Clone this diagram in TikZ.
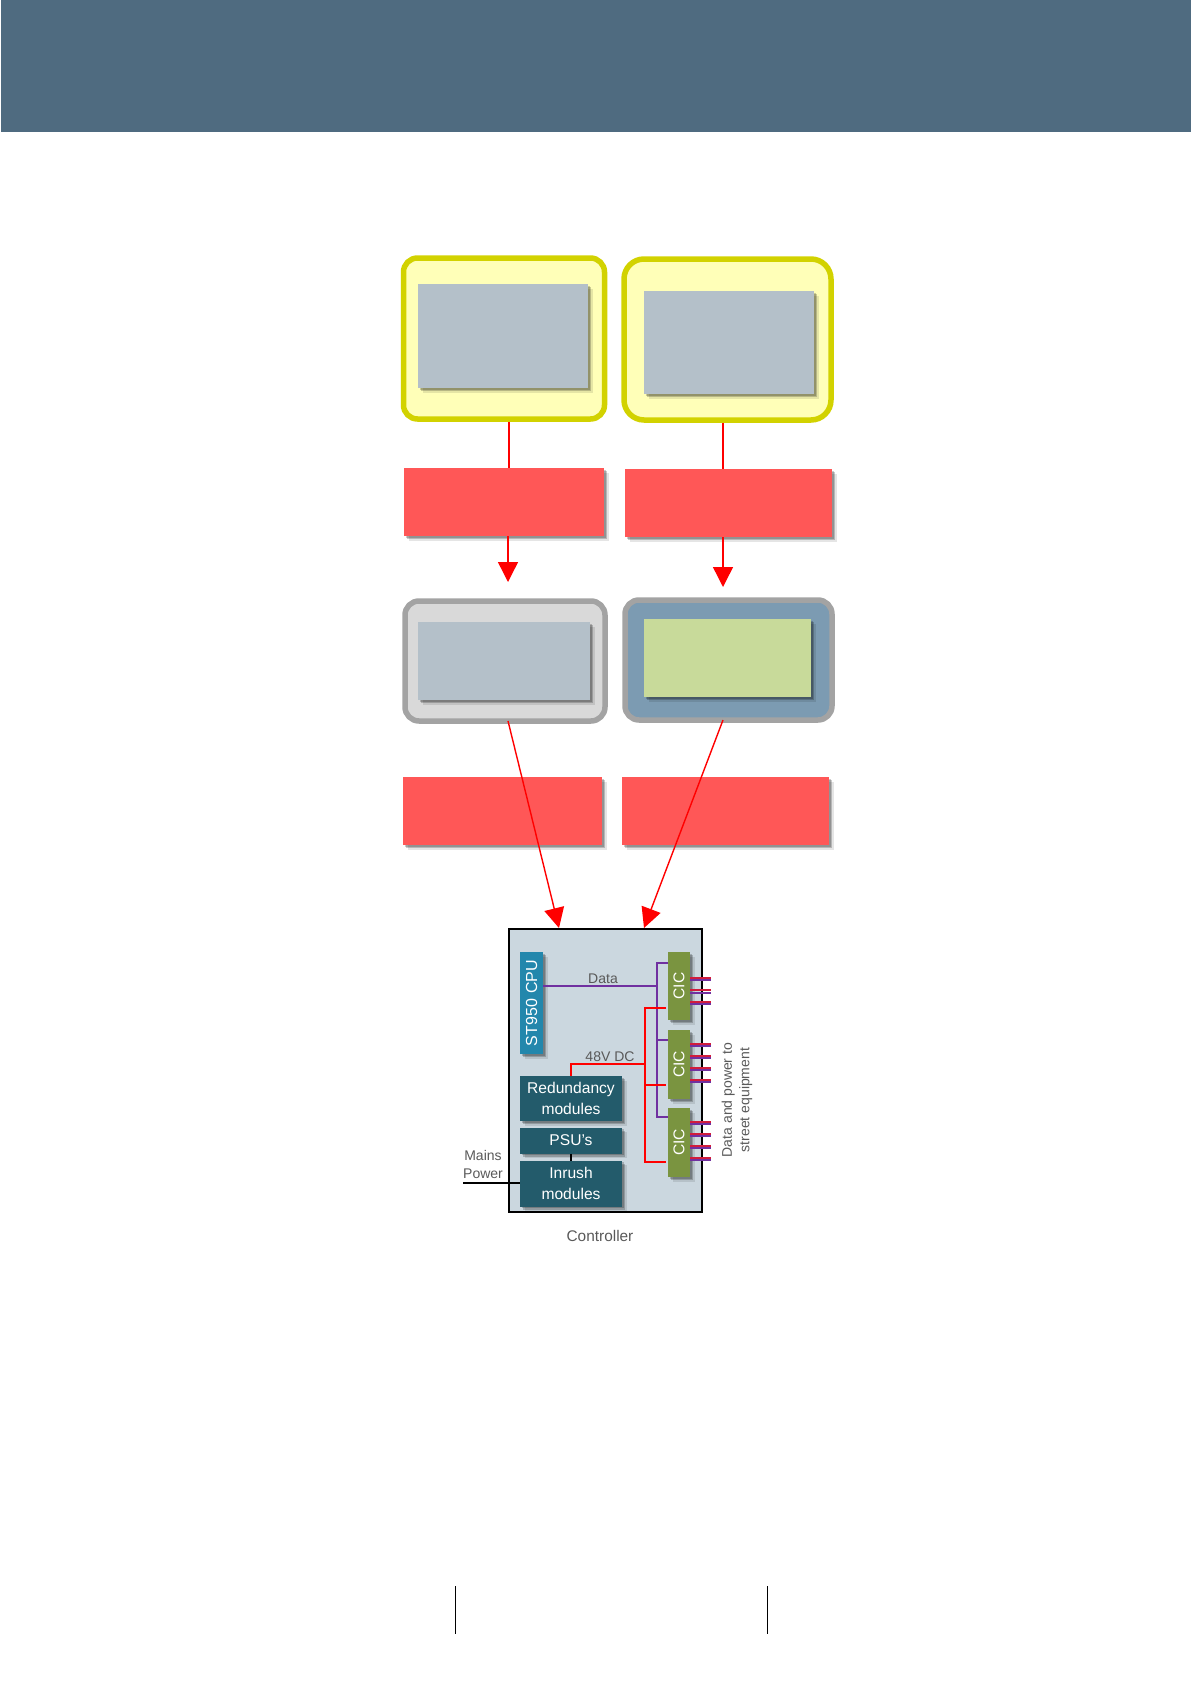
\documentclass[tikz,border=0pt]{standalone}
\usepackage{fontspec}
\setmainfont{Liberation Sans}
\usetikzlibrary{shadows,arrows.meta}
\definecolor{bandblue}{HTML}{4F6B80}
\definecolor{paleyellow}{HTML}{FFFFB8}
\definecolor{darkyellow}{HTML}{D2D200}
\definecolor{slategrey}{HTML}{B4C0C9}
\definecolor{softred}{HTML}{FF5757}
\definecolor{framegrey}{HTML}{A3A3A3}
\definecolor{palegrey}{HTML}{D9D9D9}
\definecolor{steelblue}{HTML}{7C9BB2}
\definecolor{palegreen}{HTML}{C8DA9A}
\definecolor{panelblue}{HTML}{CBD7DF}
\definecolor{cputeal}{HTML}{2387AC}
\definecolor{modteal}{HTML}{235B6B}
\definecolor{cicgreen}{HTML}{7A9440}
\definecolor{datapurple}{HTML}{7030A0}
\definecolor{stubred}{HTML}{D01C3C}
\definecolor{labelgrey}{HTML}{595959}
\tikzset{
	softshadow/.style={
		drop shadow={shadow xshift=1.5pt,shadow yshift=-1.5pt,opacity=0.2,fill=black},
		drop shadow={shadow xshift=3pt,shadow yshift=-3pt,opacity=0.2,fill=black},
		drop shadow={shadow xshift=4.5pt,shadow yshift=-4.5pt,opacity=0.1,fill=black}},
	flat/.style={inner sep=0pt,outer sep=0pt,text=white,align=center,font=\fontsize{15.6}{21}\selectfont},
	greybox/.style={flat,fill=slategrey,softshadow},
	redbox/.style={flat,fill=softred,softshadow},
	yellowframe/.style={flat,outer sep=2.75pt,rounded corners=14pt,draw=darkyellow,line width=5.5pt,fill=paleyellow},
	greyframe/.style={flat,rounded corners=14pt,draw=framegrey,line width=5.5pt},
	modbox/.style={flat,fill=modteal,softshadow},
	cicbox/.style={flat,fill=cicgreen,softshadow,rotate=90,minimum width=68pt,minimum height=22pt},
	label/.style={inner sep=0pt,text=labelgrey,align=center,font=\fontsize{14}{17.5}\selectfont},
	flow/.style={red,line width=1.4pt,-{Triangle[length=20pt,width=20pt]}},
	flowline/.style={red,line width=1.4pt},
	dataline/.style={datapurple,line width=1.5pt},
	powerline/.style={red,line width=1.5pt},
	mainsline/.style={black,line width=1.5pt},
	stubupper/.style={stubred,line width=1.6pt},
	stublower/.style={datapurple,line width=1.6pt}
}
\begin{document}
\begin{tikzpicture}[x=1pt,y=-1pt]
	\useasboundingbox (0,0) rectangle (1191,1684);
	% header band and footer rules
	\fill[bandblue] (1,0) rectangle (1191,132);
	\draw[black,line width=0.8pt] (455.5,1586) -- (455.5,1634);
	\draw[black,line width=0.8pt] (767.5,1586) -- (767.5,1634);

	% top row
	\node[yellowframe,minimum width=201pt,minimum height=161pt] (sourceL) at (504,338.5) {};
	\node[yellowframe,minimum width=207pt,minimum height=161pt,rounded corners=20pt] (sourceR) at (727.5,339.5) {};
	\node[greybox,minimum width=170pt,minimum height=104pt] (innerA) at (503,336) {};
	\node[greybox,minimum width=170pt,minimum height=103pt] (innerB) at (729,342.5) {};

	% second row
	\node[greyframe,fill=palegrey,minimum width=200pt,minimum height=120pt] (frameL) at (505,661) {};
	\node[greyframe,fill=steelblue,minimum width=207pt,minimum height=120pt] (frameR) at (728.5,660) {};
	\node[greybox,minimum width=172pt,minimum height=78pt] (innerC) at (504,661) {};
	\node[greybox,fill=palegreen,minimum width=167pt,minimum height=78pt] (innerD) at (727.5,658) {};

	% red bars
	\node[redbox,minimum width=200pt,minimum height=68pt] (barA) at (504,502) {};
	\node[redbox,minimum width=207pt,minimum height=68pt] (barB) at (728.5,503) {};
	\node[redbox,minimum width=199pt,minimum height=68pt] (barC) at (502.5,811) {};
	\node[redbox,minimum width=207pt,minimum height=68pt] (barD) at (725.5,811) {};

	% controller
	\node[flat,outer sep=1pt,draw=black,line width=2pt,fill=panelblue,minimum width=193pt,minimum height=283pt] (ctrl) at (605.2,1070.5) {};
	\node[label,font=\fontsize{15.4}{18}\selectfont] (ctrlname) at (600,1235.5) {Controller};
	\node[flat,fill=cputeal,softshadow,rotate=90,minimum width=102pt,minimum height=23pt,font=\fontsize{16}{20}\selectfont] (cpu) at (531.5,1003) {ST950\,\,CPU};
	\node[cicbox] (cicA) at (679,986) {CIC};
	\node[cicbox,minimum width=69pt] (cicB) at (679,1064.5) {CIC};
	\node[cicbox,minimum width=69pt] (cicC) at (679,1142.5) {CIC};
	\node[modbox,minimum width=102pt,minimum height=45pt] (redund) at (571,1098.5) {Redundancy\\modules};
	\node[modbox,minimum width=102pt,minimum height=26pt] (psu) at (571,1140.5) {PSU’s};
	\node[modbox,minimum width=102pt,minimum height=46pt] (inrush) at (571,1183.5) {Inrush\\modules};

	% points where the bus lines branch and end
	\coordinate (dataT) at (657,963);
	\coordinate (dataJ) at (657,986);
	\coordinate (dataM) at (657,1040);
	\coordinate (dataB) at (657,1117);
	\coordinate (powerT) at (645,1008);
	\coordinate (powerM) at (645,1064);
	\coordinate (powerN) at (645,1085);
	\coordinate (powerB) at (645,1162);
	\coordinate (dcbend) at (571,1064);
	\coordinate (tapA) at (666,1008);
	\coordinate (tapB) at (666,1085);
	\coordinate (tapC) at (666,1162);
	\coordinate (mainsin) at (463,1183);

	% data bus
	\draw[dataline] (cpu.south |- dataJ) -- (dataJ);
	\draw[dataline] (cicA.north |- dataT) -- (dataT) -- (dataB) -- (cicC.north |- dataB);
	\draw[dataline] (dataM) -- (cicB.north |- dataM);
	% power bus
	\draw[powerline] (redund.north) -- (dcbend) -- (powerM);
	\draw[powerline] (tapA) -- (powerT) -- (powerB) -- (tapC);
	\draw[powerline] (powerN) -- (tapB);
	% mains
	\draw[mainsline] (mainsin) -- (inrush.west |- mainsin);
	\draw[mainsline] (psu.south) -- (inrush.north);

	% street stubs
	\foreach \y in {979,1003,1045,1057,1069,1081,1123,1135,1147,1159}{
		\draw[stubupper] (690,\y-0.8) -- (711,\y-0.8);
		\draw[stublower] (690,\y+0.8) -- (711,\y+0.8);
	}
	\draw[stubupper] (690,990) -- (711,990);
	\draw[stublower] (690,992.8) -- (711,992.8);

	% labels
	\node[label] (datalab) at (603,978.5) {Data};
	\node[label] (dclab) at (610,1056.5) {48V DC};
	\node[label] (mainslab) at (483,1164.5) {Mains\\Power};
	\node[label,rotate=90] (streetlab) at (737,1100) {Data and power to\\street equipment};

	% arrows between rows
	\draw[flowline] (sourceL.south -| 509,0) -- (barA.north -| 509,0);
	\draw[flowline] (sourceR.south -| 723,0) -- (barB.north -| 723,0);
	\draw[flow] (barA.south -| 508,0) -- (508,582);
	\draw[flow] (barB.south -| 723,0) -- (723,587);
	\draw[flow] (frameL.south -| 508,0) -- (ctrl.north -| 559,0);
	\draw[flow] (frameR.south -| 723,0) -- (ctrl.north -| 644,0);
\end{tikzpicture}
\end{document}
